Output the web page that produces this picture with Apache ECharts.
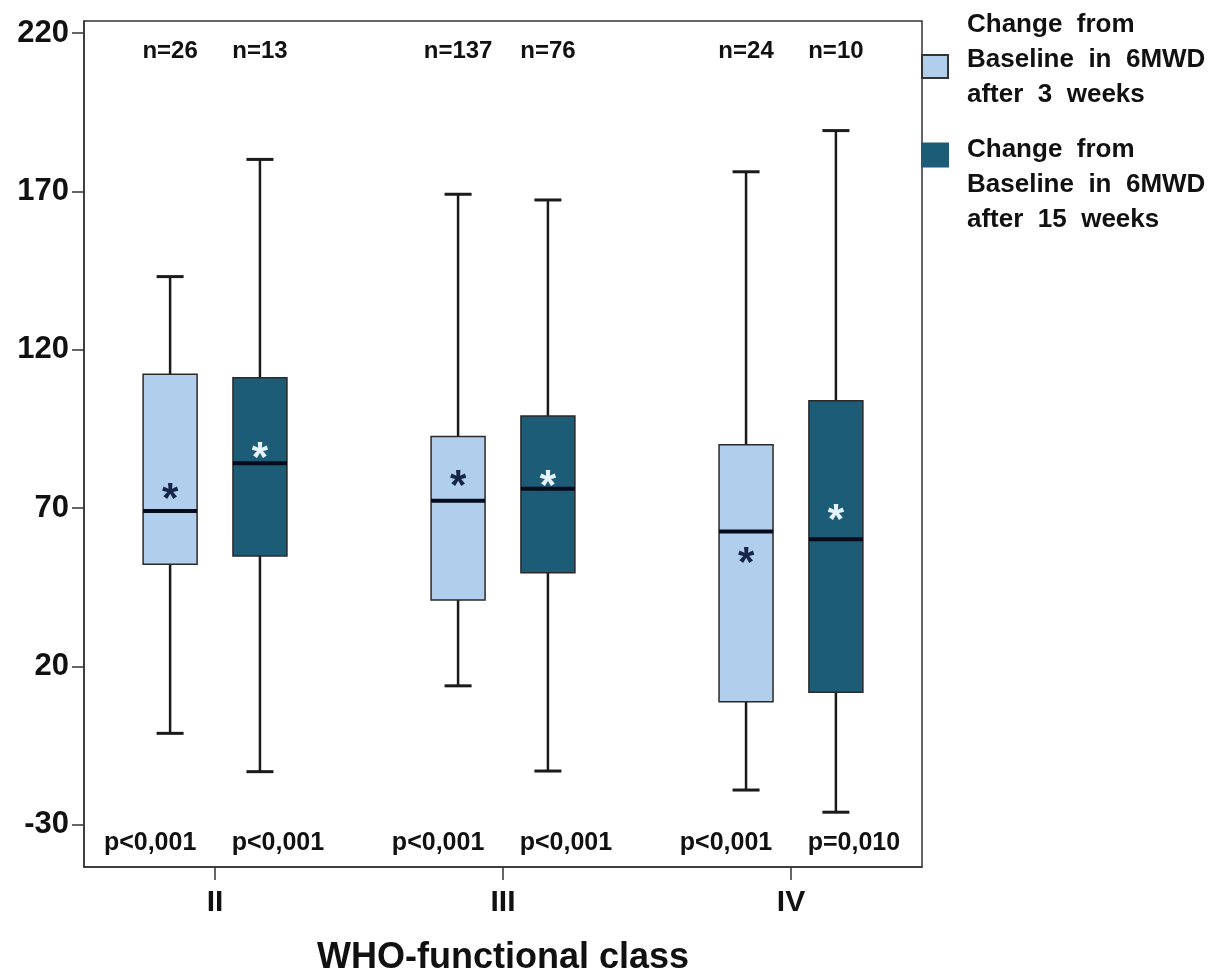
<!DOCTYPE html>
<html><head><meta charset="utf-8">
<script src="https://cdn.jsdelivr.net/npm/echarts@6/dist/echarts.min.js"></script>
<style>html,body{margin:0;padding:0;background:#fff}#c{width:1227px;height:973px}</style>
</head><body><div id="c"></div>
<script>
const categories = ['II', 'III', 'IV'];
const seriesNames = ['after 3 weeks', 'after 15 weeks'];
// [min, Q1, median, Q3, max]
const weeks3Box = [[-1.1, 52.3, 69.1, 112.3, 143.1], [13.9, 41.0, 72.3, 92.6, 169.1], [-19.0, 8.9, 62.6, 90.0, 176.2]];
const weeks15Box = [[-13.2, 54.9, 84.2, 111.2, 180.1], [-13.0, 49.6, 76.1, 99.1, 167.3], [-26.0, 11.9, 60.2, 103.9, 189.2]];
const weeks3Mean = [75.7, 79.6, 55.5];
const weeks15Mean = [88.6, 79.6, 69.1];
const weeks3N = ['n=26', 'n=137', 'n=24'];
const weeks15N = ['n=13', 'n=76', 'n=10'];
const weeks3P = ['p<0,001', 'p<0,001', 'p<0,001'];
const weeks15P = ['p<0,001', 'p<0,001', 'p=0,010'];
const yTicks = [-30, 20, 70, 120, 170, 220];
const legendLines3 = ['Change  from', 'Baseline  in  6MWD', 'after  3  weeks'];
const legendLines15 = ['Change  from', 'Baseline  in  6MWD', 'after  15  weeks'];

const FONT = '"Liberation Sans", Arial, sans-serif';
const TXT = '#111';
const BOX_W = 0.1875;

function buildData(box, mean) {
  return categories.map((c, i) => [i + 1].concat(box[i]).concat([mean[i]]));
}

function makeRender(off, fill, starColor, nArr, pArr, pShift) {
  return function (params, api) {
    const cs = params.coordSys;
    const xi = api.value(0);
    const cx = api.coord([xi + off, 0])[0];
    const y = v => api.coord([xi, v])[1];
    const w = api.size([BOX_W, 0])[0];
    const yMin = y(api.value(1)), yQ1 = y(api.value(2)), yMed = y(api.value(3)),
          yQ3 = y(api.value(4)), yMax = y(api.value(5)), yMean = y(api.value(6));
    const ls = { stroke: '#1a1a1a', lineWidth: 2.5 };
    const cap = w * 0.25;
    const i = params.dataIndex;
    return {
      type: 'group',
      children: [
        { type: 'line', shape: { x1: cx, y1: yQ3, x2: cx, y2: yMax }, style: ls },
        { type: 'line', shape: { x1: cx, y1: yQ1, x2: cx, y2: yMin }, style: ls },
        { type: 'line', shape: { x1: cx - cap, y1: yMax, x2: cx + cap, y2: yMax }, style: { stroke: '#1a1a1a', lineWidth: 3 } },
        { type: 'line', shape: { x1: cx - cap, y1: yMin, x2: cx + cap, y2: yMin }, style: { stroke: '#1a1a1a', lineWidth: 3 } },
        { type: 'rect', shape: { x: cx - w / 2, y: yQ3, width: w, height: yQ1 - yQ3 }, style: { fill: fill, stroke: '#2a2a2a', lineWidth: 1.5 } },
        { type: 'line', shape: { x1: cx - w / 2, y1: yMed, x2: cx + w / 2, y2: yMed }, style: { stroke: '#060b1c', lineWidth: 4 } },
        { type: 'text', style: { text: '*', x: cx, y: yMean + 10, align: 'center', verticalAlign: 'middle', fontSize: 42, fontWeight: 'bold', fontFamily: FONT, fill: starColor } },
        { type: 'text', style: { text: nArr[i], x: cx, y: cs.y + 30, align: 'center', verticalAlign: 'middle', fontSize: 24, fontWeight: 'bold', fontFamily: FONT, fill: TXT } },
        { type: 'text', style: { text: pArr[i], x: cx + pShift, y: cs.y + cs.height - 24, align: 'center', verticalAlign: 'middle', fontSize: 25, fontWeight: 'bold', fontFamily: FONT, fill: TXT } }
      ]
    };
  };
}

const chart = echarts.init(document.getElementById('c'));
const lineStyleRich = { fontSize: 26, fontWeight: 'bold', fontFamily: FONT, color: TXT, lineHeight: 35, padding: [0, 0, 0, 14] };
const richStyles = { a: lineStyleRich, s1: { lineHeight: 14, fontSize: 10 }, s2: { lineHeight: 60, fontSize: 10 } };
chart.setOption({
  animation: false,
  backgroundColor: '#fff',
  grid: { left: 84, top: 21, right: 305, bottom: 106, outerBoundsMode: 'none', containLabel: false, show: true, borderColor: '#333', borderWidth: 1.5, backgroundColor: 'transparent' },
  legend: [
    { data: [seriesNames[0]], left: 921, top: 11.5, orient: 'vertical', padding: 0, icon: 'rect', itemWidth: 26, itemHeight: 23, selectedMode: false,
      formatter: () => legendLines3.map(t => '{a|' + t + '}').join('\n') + '\n{s1| }',
      textStyle: { fontSize: 26, fontWeight: 'bold', fontFamily: FONT, color: TXT, rich: richStyles } },
    { data: [seriesNames[1]], left: 921, top: 97.5, orient: 'vertical', padding: 0, icon: 'rect', itemWidth: 26, itemHeight: 23, selectedMode: false,
      formatter: () => '{s2| }\n' + legendLines15.map(t => '{a|' + t + '}').join('\n'),
      textStyle: { fontSize: 26, fontWeight: 'bold', fontFamily: FONT, color: TXT, rich: richStyles } }
  ],
  xAxis: {
    type: 'value', min: 0.545, max: 3.455,
    splitLine: { show: false },
    axisLine: { show: true, onZero: false, lineStyle: { color: '#333', width: 1.5 } },
    axisTick: { show: true, customValues: [1, 2, 3], length: 13, lineStyle: { color: '#333', width: 1.5 } },
    axisLabel: { customValues: [1, 2, 3], formatter: v => categories[Math.round(v) - 1], fontSize: 30, fontWeight: 'bold', fontFamily: FONT, color: TXT, margin: 21 },
    name: 'WHO-functional class', nameLocation: 'middle', nameGap: 73,
    nameTextStyle: { fontSize: 36, fontWeight: 'bold', fontFamily: FONT, color: TXT }
  },
  yAxis: {
    type: 'value', min: -43.3, max: 223.8,
    splitLine: { show: false },
    axisLine: { show: true, onZero: false, lineStyle: { color: '#333', width: 1.5 } },
    axisTick: { show: true, customValues: yTicks, length: 12, lineStyle: { color: '#333', width: 1.5 } },
    axisLabel: { customValues: yTicks, fontSize: 31, fontWeight: 'bold', fontFamily: FONT, color: TXT, margin: 15 }
  },
  series: [
    { name: seriesNames[0], type: 'custom', data: buildData(weeks3Box, weeks3Mean), encode: { x: 0, y: [1, 2, 3, 4, 5, 6] },
      itemStyle: { color: '#b1cfec', borderColor: '#333', borderWidth: 1.5 },
      renderItem: makeRender(-0.156, '#b1cfec', '#14264a', weeks3N, weeks3P, -20) },
    { name: seriesNames[1], type: 'custom', data: buildData(weeks15Box, weeks15Mean), encode: { x: 0, y: [1, 2, 3, 4, 5, 6] },
      itemStyle: { color: '#1d5c77', borderColor: '#1d5c77', borderWidth: 1 },
      renderItem: makeRender(0.156, '#1d5c77', '#e6f3fa', weeks15N, weeks15P, 18) }
  ]
});
</script></body></html>
